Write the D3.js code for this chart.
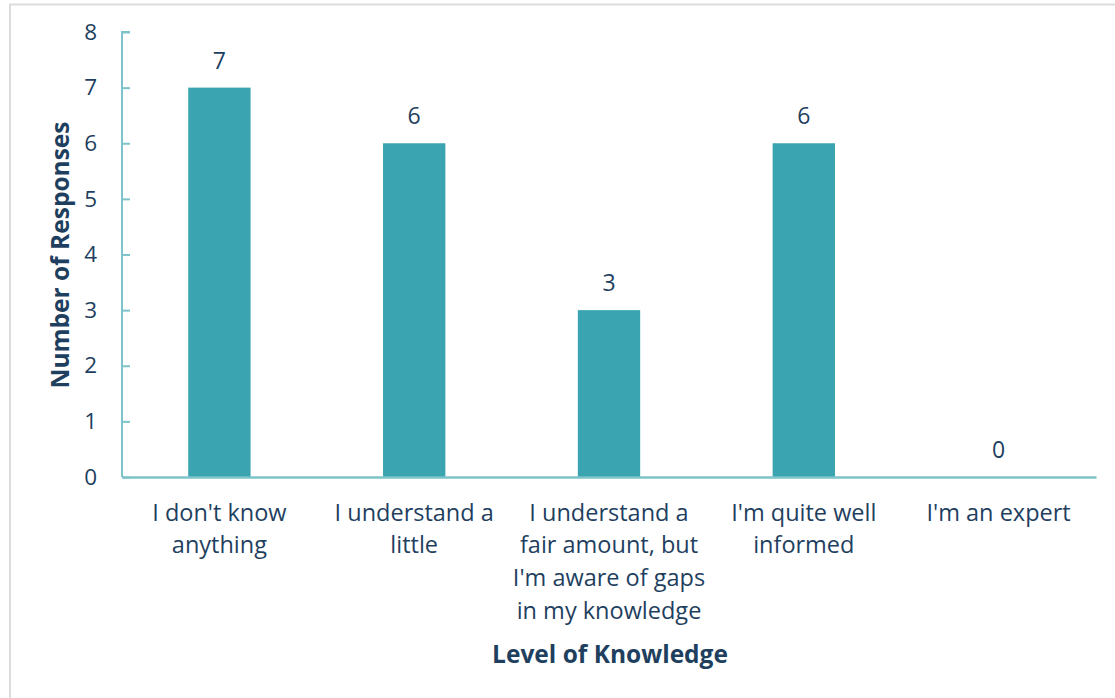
<!DOCTYPE html>
<html><head><meta charset="utf-8">
<script src="https://cdn.jsdelivr.net/npm/d3@7"></script>
<style>
html,body{margin:0;padding:0;background:#fff;}
svg{display:block;font-family:"Open Sans",sans-serif;}
</style></head>
<body>
<svg id="chart" width="1115" height="698"></svg>
<script>
const categories = [
  ["I don't know", "anything"],
  ["I understand a", "little"],
  ["I understand a", "fair amount, but", "I'm aware of gaps", "in my knowledge"],
  ["I'm quite well", "informed"],
  ["I'm an expert"]
];
const values = [7, 6, 3, 6, 0];
const yTicks = [0, 1, 2, 3, 4, 5, 6, 7, 8];
const xTitle = "Level of Knowledge";
const yTitle = "Number of Responses";

const textColor = "#1f3f5f";
const barColor = "#3aa4b0";
const axisColor = "#7cc3ca";
const font = "'Open Sans',sans-serif";

const svg = d3.select("#chart");
// frame
svg.append("path").attr("d","M10,698 V4.5 H1115").attr("fill","none")
  .attr("stroke","#dcdcdc").attr("stroke-width",2);

const keys = categories.map((c,i)=>i);
const x = d3.scaleBand().domain(keys).range([122,1096]).paddingInner(0.68).paddingOuter(0.34);
const y = d3.scaleLinear().domain([0,8]).range([477,32]);

// bars
svg.selectAll("rect.bar").data(values).enter().append("rect")
  .attr("class","bar")
  .attr("x",(d,i)=>x(i)).attr("width",x.bandwidth())
  .attr("y",d=>y(d)).attr("height",d=>y(0)-y(d))
  .attr("fill",barColor);

// y axis
const yAxis = d3.axisLeft(y).tickValues(yTicks).tickSize(-8).tickPadding(25).tickFormat(d3.format("d"));
const ga = svg.append("g").attr("transform","translate(122,0)").call(yAxis);
ga.select(".domain").attr("stroke",axisColor).attr("stroke-width",2).attr("d","M8,32H0V477");
ga.selectAll(".tick line").attr("stroke",axisColor).attr("stroke-width",2);
ga.selectAll(".tick text").attr("fill",textColor).attr("font-size",22.5).attr("font-family",font);

// x axis line
const xAxis = d3.axisBottom(x).tickSize(0).tickFormat("");
const gx = svg.append("g").attr("transform","translate(0,477)").call(xAxis);
gx.select(".domain").attr("stroke",axisColor).attr("stroke-width",2.5);

// x labels
categories.forEach((lines,i)=>{
  const t = svg.append("text").attr("text-anchor","middle").attr("fill",textColor)
    .attr("font-size",23.5);
  lines.forEach((ln,j)=>{
    t.append("tspan").attr("x",x(i)+x.bandwidth()/2).attr("y",520.5+j*32.7).text(ln);
  });
});

// value labels
svg.selectAll("text.val").data(values).enter().append("text")
  .attr("class","val").attr("text-anchor","middle").attr("fill",textColor)
  .attr("font-size",23)
  .attr("x",(d,i)=>x(i)+x.bandwidth()/2).attr("y",d=>y(d)-19).text(d=>d);

// titles
svg.append("text").attr("text-anchor","middle").attr("fill",textColor)
  .attr("font-size",24.5).attr("font-weight","bold")
  .attr("x",610).attr("y",663).text(xTitle);
svg.append("text").attr("text-anchor","middle").attr("fill",textColor)
  .attr("font-size",24.5).attr("font-weight","bold")
  .attr("transform","translate(69,255) rotate(-90)").text(yTitle);
</script>
</body></html>
